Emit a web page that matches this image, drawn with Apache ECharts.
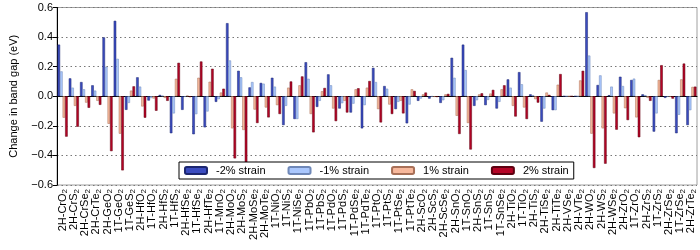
<!DOCTYPE html>
<html>
<head>
<meta charset="utf-8">
<script src="https://cdn.jsdelivr.net/npm/echarts@6/dist/echarts.min.js"></script>
<style>
html,body{margin:0;padding:0;background:#fff;}
#chart{width:700px;height:250px;}
</style>
</head>
<body>
<div id="chart"></div>
<script>
const categories = ["2H-CrO2","2H-CrS2","2H-CrSe2","2H-CrTe2","2H-GeO2","1T-GeO2","1T-GeS2","2H-HfO2","1T-HfO2","2H-HfS2","1T-HfS2","2H-HfSe2","1T-HfSe2","2H-HfTe2","1T-MnO2","2H-MoO2","2H-MoS2","2H-MoSe2","2H-MoTe2","1T-NiO2","1T-NiS2","1T-NiSe2","1T-PbO2","1T-PbS2","1T-PdO2","1T-PdS2","1T-PdSe2","1T-PdTe2","1T-PtO2","1T-PtS2","1T-PtSe2","1T-PtTe2","2H-ScO2","2H-ScS2","2H-ScSe2","2H-SnO2","1T-SnO2","2H-SnS2","1T-SnS2","1T-SnSe2","2H-TiO2","1T-TiO2","2H-TiS2","2H-TiSe2","2H-TiTe2","2H-VSe2","2H-VTe2","2H-WO2","2H-WS2","2H-WSe2","2H-ZrO2","1T-ZrO2","2H-ZrS2","1T-ZrS2","2H-ZrSe2","1T-ZrSe2","2H-ZrTe2"];

const seriesNames = ["-2% strain","-1% strain","1% strain","2% strain"];

const strainM2 = [0.349,0.121,0.096,0.074,0.398,0.51,-0.092,0.128,-0.029,0.009,-0.25,-0.092,-0.257,-0.21,-0.038,0.494,0.172,0.06,0.09,0.125,-0.195,-0.154,0.23,-0.072,0.148,-0.083,-0.11,-0.217,0.192,0.069,-0.087,-0.183,-0.031,-0.016,-0.045,0.26,0.349,-0.065,-0.06,-0.083,0.114,0.163,0.013,-0.172,-0.094,0.0,0.0,0.568,0.076,0.007,0.132,0.11,0.013,-0.239,-0.011,-0.25,-0.195];

const strainM1 = [0.168,0.058,0.047,0.038,0.199,0.253,-0.045,0.065,-0.012,0.004,-0.116,-0.004,-0.121,-0.103,-0.02,0.242,0.128,0.096,0.085,0.065,-0.065,-0.154,0.118,-0.031,0.074,-0.047,-0.05,-0.06,0.096,0.051,-0.038,-0.056,-0.016,-0.002,-0.027,0.125,0.177,-0.027,-0.025,-0.038,0.058,0.081,0.007,-0.083,-0.094,0.0,0.0,0.275,0.141,0.065,0.069,0.119,0.007,-0.116,-0.004,-0.125,-0.094];

const strainP1 = [-0.145,-0.065,-0.043,-0.031,-0.186,-0.253,0.038,-0.069,-0.015,-0.011,0.118,0.004,0.125,0.098,0.025,-0.217,-0.228,-0.09,-0.076,-0.06,0.058,0.074,-0.12,0.034,-0.083,-0.031,0.047,0.058,-0.087,-0.056,-0.031,0.047,0.013,-0.004,0.013,-0.132,-0.181,0.013,0.018,0.047,-0.065,-0.076,-0.02,0.025,0.078,0.0,0.107,-0.253,-0.217,-0.116,-0.081,-0.143,-0.011,0.11,-0.004,0.114,0.063];

const strainP2 = [-0.273,-0.206,-0.078,-0.058,-0.371,-0.501,0.067,-0.145,-0.098,-0.031,0.226,-0.006,0.235,0.186,0.051,-0.42,-0.45,-0.181,-0.143,-0.12,0.1,0.134,-0.244,0.056,-0.168,-0.11,0.054,0.103,-0.177,-0.12,-0.116,0.036,0.025,-0.005,0.016,-0.255,-0.36,0.02,0.043,0.074,-0.137,-0.154,-0.043,0.009,0.15,0.0,0.172,-0.485,-0.456,-0.226,-0.161,-0.277,-0.031,0.21,-0.016,0.221,0.065];

const yMin = -0.6, yMax = 0.6, yStep = 0.2;

const fills = ["#3b4cc0","#aac7fd","#f7b89c","#b40426"];
const edges = ["#1c2670","#6f88b8","#a87058","#5e0010"];
const allData = [strainM2, strainM1, strainP1, strainP2];

const FONT = "Liberation Sans, Arial, Helvetica, sans-serif";

const chart = echarts.init(document.getElementById('chart'), null, {renderer:'canvas'});
chart.setOption({
  animation: false,
  backgroundColor: '#fff',
  textStyle: {fontFamily: FONT},
  grid: {left: 55, right: 3, top: 7.5, bottom: 65, show: true, borderColor: '#a0a0a0', borderWidth: 1},
  legend: {
    data: seriesNames,
    left: 179, top: 162,
    padding: [3, 5, 3, 5],
    itemWidth: 22, itemHeight: 7, itemGap: 22,
    borderColor: '#000', borderWidth: 1, backgroundColor: '#fff',
    textStyle: {fontSize: 11, color: '#000', fontFamily: FONT, padding: [0,0,0,4]}
  },
  xAxis: {
    type: 'category',
    data: categories,
    axisLine: {lineStyle: {color: '#000', width: 1}},
    axisTick: {alignWithLabel: true, length: 4, lineStyle: {color: '#000'}},
    axisLabel: {
      interval: 0, rotate: 90, margin: 4, color: '#000',
      formatter: v => '{a|' + v.slice(0, -1) + '}{s|' + v.slice(-1) + '}',
      rich: {
        a: {fontSize: 11, lineHeight: 13, fontFamily: FONT, color: '#000'},
        s: {fontSize: 8, lineHeight: 8, verticalAlign: 'bottom', fontFamily: FONT, color: '#000'}
      }
    },
    splitLine: {show: false}
  },
  yAxis: {
    type: 'value', min: yMin, max: yMax, interval: yStep,
    name: 'Change in band gap (eV)', nameLocation: 'middle', nameGap: 38,
    nameTextStyle: {fontSize: 11, color: '#000', fontFamily: FONT},
    axisLine: {show: true, lineStyle: {color: '#000', width: 1}},
    axisTick: {show: true, length: 4, lineStyle: {color: '#000'}},
    axisLabel: {fontSize: 11, color: '#000', margin: 4, formatter: v => v.toFixed(1).replace('-', '\u2212')},
    splitLine: {show: true, lineStyle: {color: '#777', type: [1.5, 3], width: 1}}
  },
  series: seriesNames.map((n, i) => ({
    name: n, type: 'bar', data: allData[i],
    barGap: '0%', barCategoryGap: '10%',
    itemStyle: {color: fills[i], borderColor: edges[i], borderWidth: 0.5},
    emphasis: {disabled: true}
  }))
});
</script>
</body>
</html>
